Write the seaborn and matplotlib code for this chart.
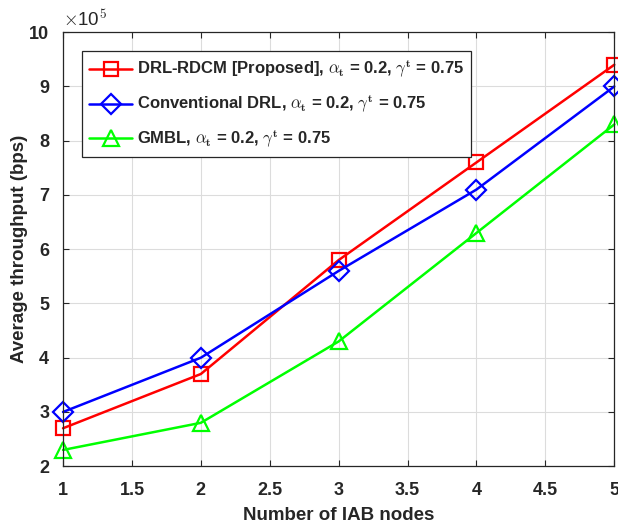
import matplotlib
matplotlib.use("Agg")
import matplotlib.pyplot as plt
import seaborn as sns
import pandas as pd

nodes = [1, 2, 3, 4, 5]
drl_rdcm = [2.7, 3.7, 5.8, 7.6, 9.4]
conv_drl = [3.0, 4.0, 5.6, 7.1, 9.0]
gmbl = [2.3, 2.8, 4.3, 6.3, 8.3]
labels = [r"DRL-RDCM [Proposed], $\alpha_\mathbf{t}$ = 0.2, $\gamma^\mathbf{t}$ = 0.75",
          r"Conventional DRL, $\alpha_\mathbf{t}$ = 0.2, $\gamma^\mathbf{t}$ = 0.75",
          r"GMBL, $\alpha_\mathbf{t}$ = 0.2, $\gamma^\mathbf{t}$ = 0.75"]

sns.set_style("white")
plt.rcParams['font.family'] = ['Liberation Sans', 'DejaVu Sans']
plt.rcParams['mathtext.fontset'] = 'cm'

fig = plt.figure(figsize=(6.18, 5.28), dpi=100)
ax = fig.add_axes([0.102, 0.117, 0.892, 0.822])

series = [drl_rdcm, conv_drl, gmbl]
colors = ["#ff0000", "#0000ff", "#00ff00"]
markers = ["s", "D", "^"]
msizes = [10, 10, 12]
for vals, lab, c, m, ms in zip(series, labels, colors, markers, msizes):
    df = pd.DataFrame({"x": nodes, "y": vals})
    sns.lineplot(data=df, x="x", y="y", ax=ax, color=c, marker=m, markersize=ms,
                 markerfacecolor="none", markeredgecolor=c, markeredgewidth=1.6,
                 linewidth=1.8, label=lab, clip_on=False)

ax.set_xlim(1, 5)
ax.set_ylim(2, 10)
ax.set_xticks([1, 1.5, 2, 2.5, 3, 3.5, 4, 4.5, 5])
ax.set_xticklabels(["1", "1.5", "2", "2.5", "3", "3.5", "4", "4.5", "5"])
ax.set_yticks(range(2, 11))
ax.grid(True, color="#dcdcdc", linewidth=0.8)
ax.tick_params(direction="in", length=4, width=0.8, labelsize=13, colors="#262626",
               top=True, right=True, bottom=True, left=True)
ax.tick_params(axis="x", pad=11)
ax.tick_params(axis="y", pad=10)
for lbl in ax.get_xticklabels() + ax.get_yticklabels():
    lbl.set_fontweight("bold")
for sp in ax.spines.values():
    sp.set_color("#262626")
    sp.set_linewidth(0.9)
ax.set_xlabel("Number of IAB nodes", fontsize=13.5, fontweight="bold", color="#262626", labelpad=6)
ax.set_ylabel("Average throughput (bps)", fontsize=13.5, fontweight="bold", color="#262626", labelpad=1)
ax.text(0.0, 1.005, r"$\times$10$^5$", transform=ax.transAxes, fontsize=13.5,
        color="#262626", ha="left", va="bottom")

leg = ax.legend(loc="upper left", bbox_to_anchor=(0.02, 0.975), fontsize=12,
                frameon=True, fancybox=False, edgecolor="#262626", framealpha=1,
                handlelength=2.6, borderpad=0.4, labelspacing=0.75, handletextpad=0.3)
leg.get_frame().set_linewidth(0.9)
for t in leg.get_texts():
    t.set_fontweight("bold")

fig.savefig("out.png", dpi=100)
